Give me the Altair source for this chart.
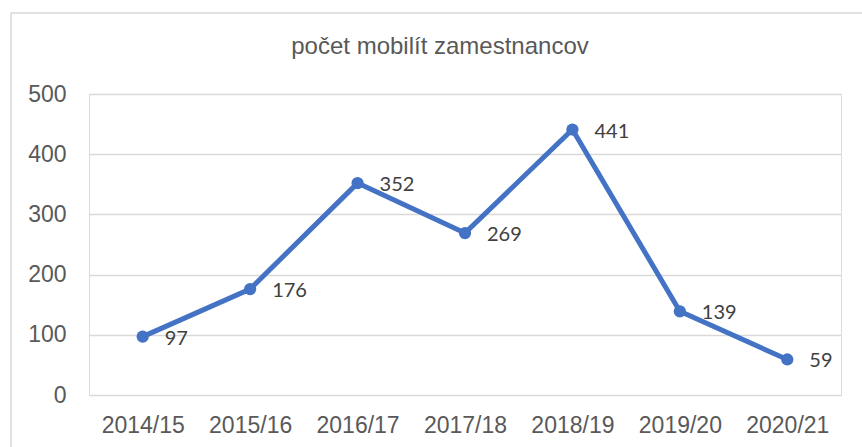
import altair as alt
import pandas as pd

years = ["2014/15", "2015/16", "2016/17", "2017/18", "2018/19", "2019/20", "2020/21"]
counts = [97, 176, 352, 269, 441, 139, 59]
y_ticks = [0, 100, 200, 300, 400, 500]

df = pd.DataFrame({"rok": years, "pocet": counts})

BLUE = "#4472C4"
GRID = "#D9D9D9"
TXT = "#595959"

x_enc = alt.X("rok:N", sort=years, title=None,
              scale=alt.Scale(paddingInner=0, paddingOuter=0.5),
              axis=alt.Axis(labelAngle=0, labelFontSize=23, labelFont="Liberation Sans",
                            labelColor=TXT, domain=False, ticks=False, tickSize=0,
                            labelPadding=19, grid=False))
y_enc = alt.Y("pocet:Q", title=None,
              scale=alt.Scale(domain=[0, 500], nice=False),
              axis=alt.Axis(values=y_ticks, labelFontSize=23, labelFont="Liberation Sans",
                            labelColor=TXT, domain=False, ticks=False, tickSize=0,
                            labelPadding=23, gridColor=GRID, gridWidth=1.3))

base = alt.Chart(df)

frame = base.mark_rect(filled=False, stroke=GRID, strokeWidth=1.5, clip=False).encode(
    x=alt.value(-78), x2=alt.value(790), y=alt.value(-81), y2=alt.value(370)
).transform_filter(alt.datum.rok == years[0])

line = base.mark_line(color=BLUE, strokeWidth=5).encode(x=x_enc, y=y_enc)
points = base.mark_point(filled=True, color=BLUE, size=150, opacity=1).encode(x=x_enc, y=y_enc)
labels = base.mark_text(align="left", baseline="middle", dx=22, dy=2, fontSize=20,
                        font="Lato", color="#404040").encode(
    x=x_enc, y=y_enc, text="pocet:Q")

chart = alt.layer(frame, line, points, labels).properties(
    width=752, height=301,
    title=alt.TitleParams("počet mobilít zamestnancov", fontSize=24, font="Liberation Sans",
                          fontWeight="normal", color=TXT, anchor="middle", offset=0,
                          frame="group", orient="top", baseline="alphabetic", dy=66, dx=-25),
    autosize=alt.AutoSizeParams(type="none"),
    padding={"left": 89, "top": 94, "right": 21, "bottom": 52},
).configure_view(stroke=None).configure(background="white")

chart.save("out.html", embed_options={"renderer": "svg", "actions": False})
